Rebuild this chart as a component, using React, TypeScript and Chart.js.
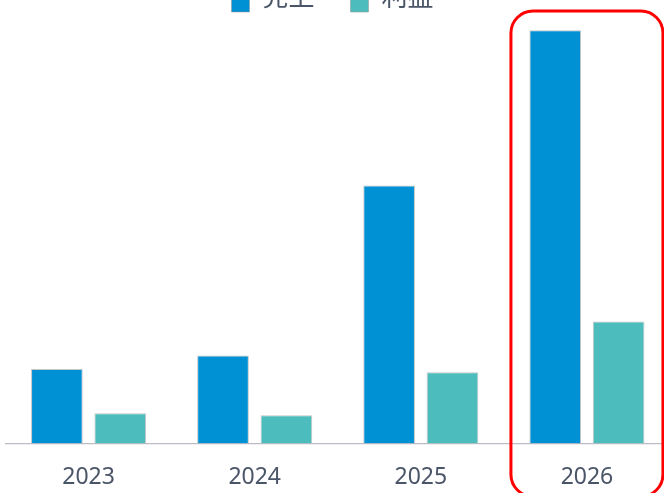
import React, { useEffect, useRef } from "react";
import { Chart, registerables } from "chart.js";

Chart.register(...registerables);

const categories = ["2023", "2024", "2025", "2026"];
const salesLabel = "売上";
const profitLabel = "利益";
const salesValues = [180, 213, 624, 1000];
const profitValues = [73, 68, 172, 295];
const yMax = 1020;
const highlightIndex = 3;

const TEXT = "#4A5568";

const highlightPlugin = {
  id: "highlightBox",
  afterDraw(chart: any) {
    const { ctx, chartArea, scales } = chart;
    const xs = scales.x;
    const cx = xs.getPixelForValue(highlightIndex);
    const half = 76;
    const left = cx - half;
    const right = cx + half;
    const top = chartArea.top - 11;
    const bottom = chartArea.bottom + 53;
    const r = 22;
    ctx.save();
    ctx.strokeStyle = "#FF0000";
    ctx.lineWidth = 3;
    ctx.beginPath();
    ctx.moveTo(left + r, top);
    ctx.lineTo(right - r, top);
    ctx.arcTo(right, top, right, top + r, r);
    ctx.lineTo(right, bottom - r);
    ctx.arcTo(right, bottom, right - r, bottom, r);
    ctx.lineTo(left + r, bottom);
    ctx.arcTo(left, bottom, left, bottom - r, r);
    ctx.lineTo(left, top + r);
    ctx.arcTo(left, top, left + r, top, r);
    ctx.closePath();
    ctx.stroke();
    ctx.restore();
  },
};

export default function App() {
  const ref = useRef<HTMLCanvasElement | null>(null);
  useEffect(() => {
    if (!ref.current) return;
    const chart = new Chart(ref.current, {
      type: "bar",
      data: {
        labels: categories,
        datasets: [
          {
            label: salesLabel,
            data: salesValues,
            backgroundColor: "#0091D5",
            borderColor: "rgba(150,150,150,0.55)",
            borderWidth: 1,
            categoryPercentage: 0.763,
            barPercentage: 0.815,
          },
          {
            label: profitLabel,
            data: profitValues,
            backgroundColor: "#4CBCBC",
            borderColor: "rgba(150,150,150,0.55)",
            borderWidth: 1,
            categoryPercentage: 0.763,
            barPercentage: 0.815,
          },
        ],
      },
      options: {
        responsive: false,
        animation: false,
        layout: { padding: 0 },
        plugins: {
          legend: {
            display: true,
            position: "top",
            labels: {
              boxWidth: 18,
              padding: 36,
              color: TEXT,
              font: { family: "'Noto Sans', 'Noto Sans CJK JP', sans-serif", size: 26 },
            },
          },
          tooltip: { enabled: false },
        },
        scales: {
          x: {
            grid: { display: false, drawTicks: false },
            border: { display: true, color: "#BDBDC3", width: 1.3 },
            ticks: {
              color: TEXT,
              padding: 20,
              font: { family: "'Noto Sans', sans-serif", size: 23 },
            },
          },
          y: {
            min: 0,
            max: yMax,
            display: true,
            grid: { display: false, drawTicks: false },
            border: { display: false },
            ticks: { display: false },
            afterFit: (s: any) => {
              s.width = 10.5;
            },
          },
        },
      },
      plugins: [highlightPlugin],
    });
    return () => chart.destroy();
  }, []);
  return (
    <div
      style={{
        position: "fixed",
        left: 0,
        top: 0,
        width: 664,
        height: 493,
        overflow: "hidden",
        background: "#fff",
      }}
    >
      <canvas
        ref={ref}
        width={675}
        height={561}
        style={{ position: "absolute", left: -5, top: -50, width: 675, height: 561 }}
      />
    </div>
  );
}
